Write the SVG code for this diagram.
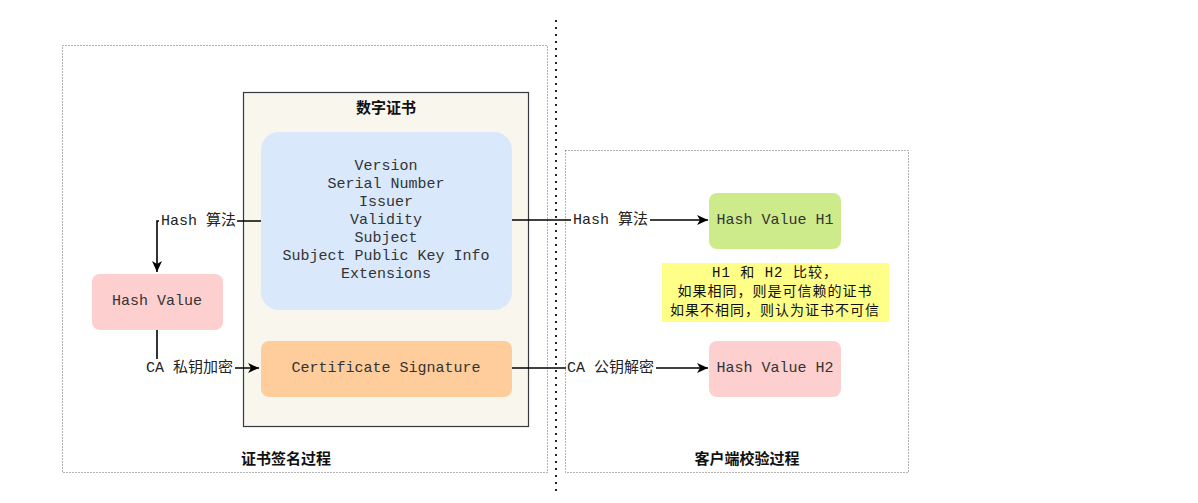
<svg xmlns="http://www.w3.org/2000/svg" width="1198" height="503" viewBox="0 0 1198 503">
<defs>
<style>
.frame{fill:none;stroke:#666;stroke-width:1;stroke-dasharray:1 2}
.mono{font-family:"Liberation Mono","Noto Sans CJK SC",monospace;font-size:15px;fill:#333;dominant-baseline:central}
.lbl{font-family:"Liberation Mono","Noto Sans CJK SC",monospace;font-size:15px;fill:#222;dominant-baseline:central}
.note{font-family:"Liberation Mono","Noto Sans CJK SC",monospace;font-size:14px;letter-spacing:1px;fill:#111;dominant-baseline:central;text-anchor:middle}
.title{font-family:"Noto Sans CJK SC","Liberation Sans",sans-serif;font-size:15px;font-weight:bold;fill:#111;dominant-baseline:central;text-anchor:middle}
.mid{text-anchor:middle}
.edge{fill:none;stroke:#000;stroke-width:1.6}
.bg{fill:#fff}
</style>
<marker id="arr" markerUnits="userSpaceOnUse" markerWidth="12" markerHeight="10" refX="11" refY="5" orient="auto">
<path d="M0,0 L11,5 L0,10 L3,5 Z" fill="#000"/>
</marker>
</defs>
<rect width="1198" height="503" fill="#fff"/>

<g id="frame-sign">
<rect class="frame" x="62.5" y="45.5" width="485" height="427"/>
<text class="title" x="286" y="457">证书签名过程</text>
</g>
<g id="frame-verify">
<rect class="frame" x="565.5" y="150.5" width="343" height="322"/>
<text class="title" x="747" y="457">客户端校验过程</text>
</g>
<line id="divider" x1="556" y1="20" x2="556" y2="494" stroke="#222" stroke-width="2" stroke-dasharray="2 5"/>

<g id="certificate">
<rect x="243.5" y="92.5" width="285" height="334" fill="#f9f7ed" stroke="#36393d" stroke-width="1.2"/>
<text class="title" x="386" y="106">数字证书</text>
</g>
<g id="cert-fields">
<rect x="261" y="132" width="251" height="178" rx="18" fill="#dae8fc"/>
<text class="mono mid" x="386" y="166">Version</text>
<text class="mono mid" x="386" y="184">Serial Number</text>
<text class="mono mid" x="386" y="202">Issuer</text>
<text class="mono mid" x="386" y="220">Validity</text>
<text class="mono mid" x="386" y="238">Subject</text>
<text class="mono mid" x="386" y="256">Subject Public Key Info</text>
<text class="mono mid" x="386" y="274">Extensions</text>
</g>
<g id="cert-signature">
<rect x="261" y="341" width="251" height="56" rx="8" fill="#ffcd9c"/>
<text class="mono mid" x="386" y="368">Certificate Signature</text>
</g>
<g id="hash-value">
<rect x="92" y="274" width="131" height="56" rx="8" fill="#fdcfcf"/>
<text class="mono mid" x="157" y="301">Hash Value</text>
</g>
<g id="hash-h1">
<rect x="709" y="193" width="132" height="56" rx="8" fill="#cdeb8b"/>
<text class="mono mid" x="775" y="220">Hash Value H1</text>
</g>
<g id="hash-h2">
<rect x="709" y="341" width="132" height="56" rx="8" fill="#fdcfcf"/>
<text class="mono mid" x="775" y="368">Hash Value H2</text>
</g>
<g id="compare-note">
<rect x="662" y="263" width="227" height="59" fill="#ffff88"/>
<text class="note" x="775" y="273">H1 和 H2 比较，</text>
<text class="note" x="775" y="292">如果相同，则是可信赖的证书</text>
<text class="note" x="775" y="311">如果不相同，则认为证书不可信</text>
</g>

<g id="connectors">
<path class="edge" d="M261,221 H157 V272" marker-end="url(#arr)"/>
<rect class="bg" x="159" y="212" width="78" height="18"/>
<text class="lbl" x="161" y="221">Hash 算法</text>

<path class="edge" d="M157,330 V368 H259" marker-end="url(#arr)"/>
<rect class="bg" x="144" y="359" width="91" height="18"/>
<text class="lbl" x="146" y="368">CA 私钥加密</text>

<path class="edge" d="M512,220 H708" marker-end="url(#arr)"/>
<rect class="bg" x="571" y="211" width="79" height="18"/>
<text class="lbl" x="573" y="220">Hash 算法</text>

<path class="edge" d="M512,368 H708" marker-end="url(#arr)"/>
<rect class="bg" x="566" y="359" width="90" height="18"/>
<text class="lbl" x="567" y="368">CA 公钥解密</text>
</g>
</svg>
